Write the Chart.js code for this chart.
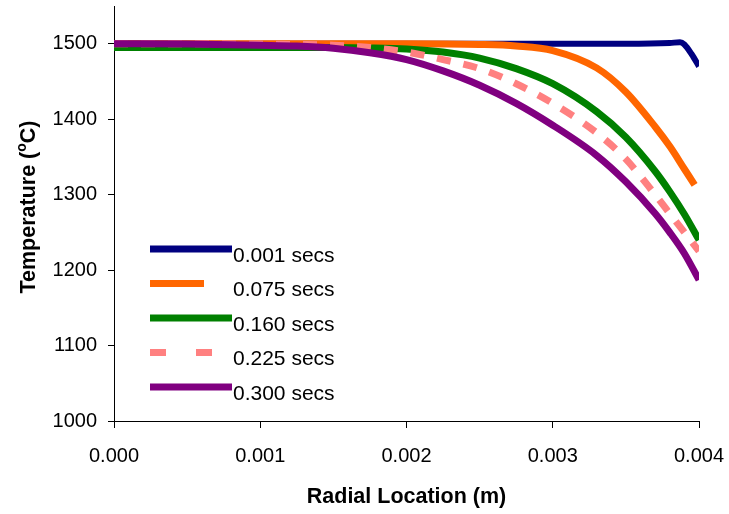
<!DOCTYPE html>
<html>
<head>
<meta charset="utf-8">
<script src="https://cdn.jsdelivr.net/npm/chart.js@4/dist/chart.umd.min.js"></script>
<style>
  html, body { margin: 0; padding: 0; background: #fff; }
  #wrap { width: 729px; height: 514px; }
</style>
</head>
<body>
<div id="wrap"><canvas id="temp-chart" width="729" height="514"></canvas></div>
<script>
// Series labels
const seriesLabels = ['0.001 secs', '0.075 secs', '0.160 secs', '0.225 secs', '0.300 secs'];

// Radial location (m) and temperature (°C)
const xBlue = [0, 0.001, 0.002, 0.003, 0.0035, 0.0038, 0.00387, 0.0039, 0.00395, 0.004];
const tBlue = [1500, 1500, 1500, 1500, 1500, 1501, 1502, 1499, 1486, 1470];

const xOrange = [0, 0.001, 0.002, 0.0025, 0.00275, 0.003, 0.0033, 0.0035, 0.0037, 0.0038, 0.0039, 0.00397];
const tOrange = [1500, 1500, 1500, 1499, 1497, 1491, 1468, 1436, 1390, 1364, 1334, 1313];

const xCurve = [0, 0.0005, 0.001, 0.00125, 0.0015, 0.00175, 0.002, 0.00225, 0.0025, 0.00275, 0.003, 0.0033, 0.0035, 0.0037, 0.0038, 0.0039, 0.004];
const tGreen = [1495, 1495, 1495, 1495, 1495, 1494.5, 1493, 1489, 1481, 1467, 1447, 1410, 1376, 1331, 1304, 1274, 1240];
const tPink = [1500, 1500, 1499.5, 1499, 1498, 1495, 1489, 1479, 1467, 1447, 1421, 1382, 1347, 1300, 1275, 1250, 1225];
const tPurple = [1500, 1499.5, 1498, 1497, 1494, 1488, 1479, 1464, 1445, 1421, 1392, 1352, 1317, 1275, 1250, 1222, 1187];

// Tick values
const xTicks = [0, 0.001, 0.002, 0.003, 0.004];
const yTicks = [1000, 1100, 1200, 1300, 1400, 1500];

function toPoints(xs, ys) {
  return xs.map((x, i) => ({ x: x, y: ys[i] }));
}

function makeSet(i, xs, ys, color, extra) {
  return Object.assign({
    label: seriesLabels[i],
    data: toPoints(xs, ys),
    borderColor: color,
    backgroundColor: color,
    borderWidth: 7,
    pointRadius: 0,
    cubicInterpolationMode: 'monotone',
    borderCapStyle: 'butt',
    order: 5 - i,
    legendLen: 82,
  }, extra || {});
}

const datasets = [
  makeSet(0, xBlue, tBlue, '#000080', { borderWidth: 6 }),
  makeSet(1, xOrange, tOrange, '#FF6600', { legendLen: 54 }),
  makeSet(2, xCurve, tGreen, '#008000'),
  makeSet(3, xCurve, tPink, '#FF8080', { borderDash: [14, 13], legendDash: [16, 30], legendLen: 62 }),
  makeSet(4, xCurve, tPurple, '#800080'),
];

const FONT = '"Liberation Sans", Arial, sans-serif';

// Légende et titres d'axes dessinés à la main
const decorPlugin = {
  id: 'decor',
  afterDraw(chart) {
    const ctx = chart.ctx;
    const area = chart.chartArea;
    ctx.save();
    ctx.fillStyle = '#000';

    // x title
    ctx.font = 'bold 21.5px ' + FONT;
    ctx.textAlign = 'center';
    ctx.textBaseline = 'middle';
    ctx.fillText('Radial Location (m)', (area.left + area.right) / 2, 497);

    // y title with superscript o
    ctx.translate(29, 207);
    ctx.rotate(-Math.PI / 2);
    const a = 'Temperature (', b = 'C)';
    ctx.font = 'bold 21.5px ' + FONT;
    const wa = ctx.measureText(a).width, wb = ctx.measureText(b).width;
    ctx.font = 'bold 14px ' + FONT;
    const wo = ctx.measureText('o').width;
    const x0 = -(wa + wo + wb) / 2;
    ctx.textAlign = 'left';
    ctx.font = 'bold 21.5px ' + FONT;
    ctx.fillText(a, x0, 0);
    ctx.font = 'bold 14px ' + FONT;
    ctx.fillText('o', x0 + wa, -7);
    ctx.font = 'bold 21.5px ' + FONT;
    ctx.fillText(b, x0 + wa + wo, 0);
    ctx.restore();

    // legend
    ctx.save();
    ctx.font = '21px ' + FONT;
    ctx.textAlign = 'left';
    ctx.textBaseline = 'middle';
    chart.data.datasets.forEach((ds, i) => {
      const ly = 249 + i * 34.5;
      ctx.beginPath();
      ctx.lineWidth = 7;
      ctx.lineCap = 'butt';
      ctx.strokeStyle = ds.borderColor;
      ctx.setLineDash(ds.legendDash || []);
      ctx.moveTo(150, ly);
      ctx.lineTo(150 + ds.legendLen, ly);
      ctx.stroke();
      ctx.setLineDash([]);
      ctx.fillStyle = '#000';
      ctx.fillText(ds.label, 233, ly + 7);
    });
    ctx.restore();
  }
};

const tickFont = { family: FONT, size: 20 };

new Chart(document.getElementById('temp-chart'), {
  type: 'line',
  data: { datasets: datasets },
  plugins: [decorPlugin],
  options: {
    responsive: false,
    animation: false,
    layout: { padding: { left: 0, top: 6, right: 30, bottom: 0 } },
    plugins: {
      legend: { display: false },
      tooltip: { enabled: false },
    },
    scales: {
      x: {
        type: 'linear',
        min: 0,
        max: 0.004,
        afterFit(scale) {
          scale.height = 93;
          scale.paddingLeft = 0;
          scale.paddingRight = 0;
        },
        afterBuildTicks(scale) { scale.ticks = xTicks.map(v => ({ value: v })); },
        border: { color: '#000', width: 1 },
        grid: { drawOnChartArea: false, color: '#000', tickLength: 7 },
        ticks: {
          color: '#000',
          font: tickFont,
          padding: 16,
          maxRotation: 0,
          callback: v => v.toFixed(3),
        },
      },
      y: {
        type: 'linear',
        min: 1000,
        max: 1550,
        afterFit(scale) {
          scale.width = 114;
          scale.paddingTop = 0;
          scale.paddingBottom = 0;
        },
        afterBuildTicks(scale) { scale.ticks = yTicks.map(v => ({ value: v })); },
        border: { color: '#000', width: 1 },
        grid: { drawOnChartArea: false, color: '#000', tickLength: 6 },
        ticks: {
          color: '#000',
          font: tickFont,
          padding: 11,
          callback: v => String(v),
        },
      },
    },
  },
});
</script>
</body>
</html>
